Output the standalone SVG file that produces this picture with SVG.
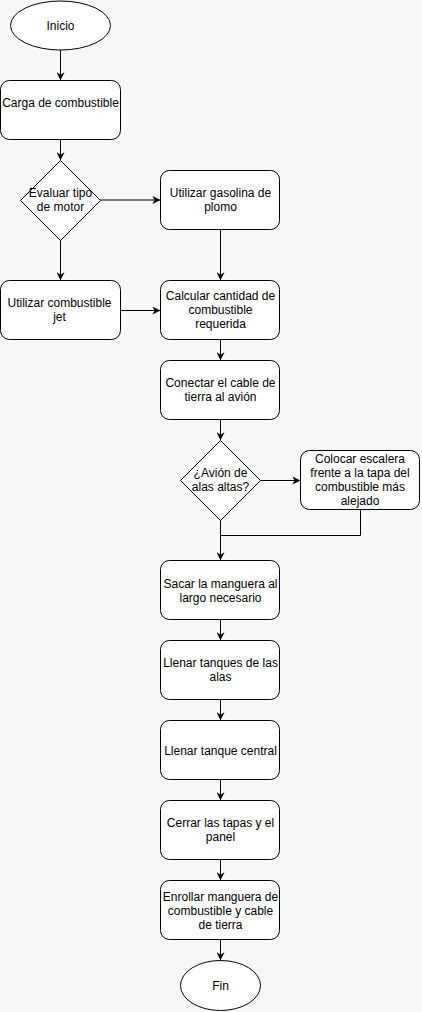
<svg xmlns="http://www.w3.org/2000/svg" width="422" height="1012" viewBox="0 0 422 1012">
<style>
.n{fill:#fff;stroke:#000;stroke-width:1}
.t{font-family:"Liberation Sans",Arial,sans-serif;font-size:12px;fill:#000;text-anchor:middle}
.c{fill:none;stroke:#000;stroke-width:1}
</style>
<defs>
<marker id="ah" viewBox="0 0 10 10" refX="9" refY="5" markerWidth="8" markerHeight="8" markerUnits="userSpaceOnUse" orient="auto">
<path d="M0,0 L10,5 L0,10 L3,5 z" fill="#000"/>
</marker>
</defs>
<rect width="422" height="1012" fill="#f7f7f7"/>
<g id="connectors">
<path class="c" d="M60.5,50 V79.5" marker-end="url(#ah)"/>
<path class="c" d="M60.5,140 V159.5" marker-end="url(#ah)"/>
<path class="c" d="M100,200 H159.5" marker-end="url(#ah)"/>
<path class="c" d="M60.5,240 V279.5" marker-end="url(#ah)"/>
<path class="c" d="M220.5,230 V279.5" marker-end="url(#ah)"/>
<path class="c" d="M120,310.5 H159.5" marker-end="url(#ah)"/>
<path class="c" d="M220.5,340 V359.5" marker-end="url(#ah)"/>
<path class="c" d="M220.5,420 V439.5" marker-end="url(#ah)"/>
<path class="c" d="M260,480.5 H299.5" marker-end="url(#ah)"/>
<path class="c" d="M220.5,520 V559.5" marker-end="url(#ah)"/>
<path class="c" d="M360.5,510 V535.5 H220.5"/>
<path class="c" d="M220.5,620 V639.5" marker-end="url(#ah)"/>
<path class="c" d="M220.5,700 V719.5" marker-end="url(#ah)"/>
<path class="c" d="M220.5,780 V799.5" marker-end="url(#ah)"/>
<path class="c" d="M220.5,860 V879.5" marker-end="url(#ah)"/>
<path class="c" d="M220.5,940 V959.5" marker-end="url(#ah)"/>
</g>
<g id="inicio">
<ellipse class="n" cx="60.5" cy="25.5" rx="50" ry="24.5"/>
<text class="t" x="60.5" y="29.5">Inicio</text>
</g>
<g id="carga">
<rect class="n" x="0.5" y="80.5" width="120" height="59" rx="9"/>
<text class="t" x="60.5" y="107">Carga de combustible</text>
</g>
<g id="evaluar">
<path class="n" d="M60.5,160.5 L100.5,200.5 L60.5,240.5 L20.5,200.5 Z"/>
<text class="t" x="60.5" y="197">Evaluar tipo</text>
<text class="t" x="60.5" y="211">de motor</text>
</g>
<g id="gasolina">
<rect class="n" x="160.5" y="170.5" width="119" height="59" rx="9"/>
<text class="t" x="220.5" y="197">Utilizar gasolina de</text>
<text class="t" x="220.5" y="211">plomo</text>
</g>
<g id="jet">
<rect class="n" x="0.5" y="280.5" width="120" height="59" rx="9"/>
<text class="t" x="59.5" y="307">Utilizar combustible</text>
<text class="t" x="59.5" y="321">jet</text>
</g>
<g id="calcular">
<rect class="n" x="160.5" y="280.5" width="119" height="59" rx="9"/>
<text class="t" x="220.5" y="300">Calcular cantidad de</text>
<text class="t" x="220.5" y="314">combustible</text>
<text class="t" x="220.5" y="328">requerida</text>
</g>
<g id="conectar">
<rect class="n" x="160.5" y="360.5" width="119" height="59" rx="9"/>
<text class="t" x="220.5" y="387">Conectar el cable de</text>
<text class="t" x="220.5" y="401">tierra al avión</text>
</g>
<g id="alas">
<path class="n" d="M220.5,440.5 L260.5,480.5 L220.5,520.5 L180.5,480.5 Z"/>
<text class="t" x="220.5" y="477">¿Avión de</text>
<text class="t" x="220.5" y="491">alas altas?</text>
</g>
<g id="escalera">
<rect class="n" x="300.5" y="450.5" width="119" height="59" rx="9"/>
<text class="t" x="360" y="463">Colocar escalera</text>
<text class="t" x="360" y="477">frente a la tapa del</text>
<text class="t" x="360" y="491">combustible más</text>
<text class="t" x="360" y="505">alejado</text>
</g>
<g id="sacar">
<rect class="n" x="160.5" y="560.5" width="119" height="59" rx="9"/>
<text class="t" x="220.5" y="588">Sacar la manguera al</text>
<text class="t" x="220.5" y="602">largo necesario</text>
</g>
<g id="llenar-alas">
<rect class="n" x="160.5" y="640.5" width="119" height="59" rx="9"/>
<text class="t" x="220.5" y="667">Llenar tanques de las</text>
<text class="t" x="220.5" y="681">alas</text>
</g>
<g id="llenar-central">
<rect class="n" x="160.5" y="720.5" width="119" height="59" rx="9"/>
<text class="t" x="220.5" y="755">Llenar tanque central</text>
</g>
<g id="cerrar">
<rect class="n" x="160.5" y="800.5" width="119" height="59" rx="9"/>
<text class="t" x="220.5" y="827">Cerrar las tapas y el</text>
<text class="t" x="220.5" y="841">panel</text>
</g>
<g id="enrollar">
<rect class="n" x="160.5" y="880.5" width="119" height="59" rx="9"/>
<text class="t" x="220.5" y="901">Enrollar manguera de</text>
<text class="t" x="220.5" y="915">combustible y cable</text>
<text class="t" x="220.5" y="929">de tierra</text>
</g>
<g id="fin">
<ellipse class="n" cx="220.5" cy="985.5" rx="40" ry="25"/>
<text class="t" x="220.5" y="989.5">Fin</text>
</g>
</svg>
